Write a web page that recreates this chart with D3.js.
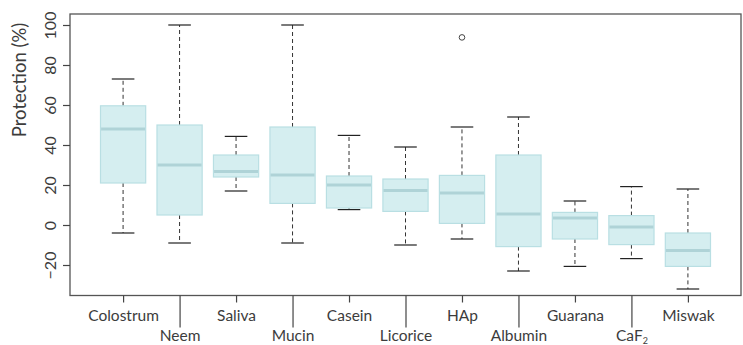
<!DOCTYPE html>
<html>
<head>
<meta charset="utf-8">
<script src="https://cdn.jsdelivr.net/npm/d3@7"></script>
<style>
  html, body { margin: 0; padding: 0; background: #fff; }
  svg text { font-family: Lato, "Open Sans", sans-serif; font-weight: 400; fill: #3c3c3c; }
</style>
</head>
<body>
<svg id="chart" width="743" height="345"></svg>
<script>
// Treatments, in plotting order
const categories = ["Colostrum", "Neem", "Saliva", "Mucin", "Casein", "Licorice",
                    "HAp", "Albumin", "Guarana", "CaF2", "Miswak"];
// Five-number summaries (% protection)
const whiskerLow = [-4, -9, 17, -9, 7.7, -10, -7, -23, -20.7, -16.8, -32];
const q1         = [21, 5, 24, 10.8, 8.5, 6.8, 0.8, -10.8, -7, -9.8, -20.7];
const medians    = [48, 30, 26.8, 25, 20, 17.3, 16, 5.5, 3.5, -1, -12.7];
const q3         = [59.6, 50, 35, 49, 24.5, 23, 24.8, 35, 6.3, 4.7, -4];
const whiskerHigh= [73, 100, 44.3, 100, 44.8, 39, 49, 54, 12, 19.2, 18];
// Points beyond the whiskers
const outliers = [{ group: "HAp", value: 93.8 }];
const yTicks = [-20, 0, 20, 40, 60, 80, 100];

const svg = d3.select("#chart");
const plotL = 70, plotR = 741, plotT = 14, plotB = 295.5;

const x = d3.scaleLinear().domain([0.06, categories.length + 0.94]).range([plotL, plotR]);
const y = d3.scaleLinear().domain([-35.25, 105.5]).range([plotB, plotT]);
const pos = name => x(categories.indexOf(name) + 1);
const boxW = x(0.8) - x(0);
const capW = x(0.4) - x(0);

const data = categories.map((c, i) => ({
  name: c, lo: whiskerLow[i], q1: q1[i], med: medians[i], q3: q3[i], hi: whiskerHigh[i]
}));

const g = svg.append("g");

// Dashed whiskers
g.selectAll(".wh-up").data(data).join("line")
  .attr("x1", d => pos(d.name)).attr("x2", d => pos(d.name))
  .attr("y1", d => y(d.q3)).attr("y2", d => y(d.hi))
  .attr("stroke", "#333").attr("stroke-width", 1).attr("stroke-dasharray", "4,3");
g.selectAll(".wh-dn").data(data).join("line")
  .attr("x1", d => pos(d.name)).attr("x2", d => pos(d.name))
  .attr("y1", d => y(d.q1)).attr("y2", d => y(d.lo))
  .attr("stroke", "#333").attr("stroke-width", 1).attr("stroke-dasharray", "4,3");

// Whisker caps
["lo", "hi"].forEach(k => {
  g.selectAll(".cap-" + k).data(data).join("line")
    .attr("x1", d => pos(d.name) - capW / 2).attr("x2", d => pos(d.name) + capW / 2)
    .attr("y1", d => y(d[k])).attr("y2", d => y(d[k]))
    .attr("stroke", "#222").attr("stroke-width", 1.2);
});

// Boxes
g.selectAll(".box").data(data).join("rect")
  .attr("x", d => pos(d.name) - boxW / 2).attr("width", boxW)
  .attr("y", d => y(d.q3)).attr("height", d => y(d.q1) - y(d.q3))
  .attr("fill", "#d5eef0").attr("stroke", "#b9dfe3").attr("stroke-width", 1.2);

// Medians
g.selectAll(".med").data(data).join("line")
  .attr("x1", d => pos(d.name) - boxW / 2 + 0.6).attr("x2", d => pos(d.name) + boxW / 2 - 0.6)
  .attr("y1", d => y(d.med)).attr("y2", d => y(d.med))
  .attr("stroke", "#afd3d7").attr("stroke-width", 3);

// Outliers
g.selectAll(".out").data(outliers).join("circle")
  .attr("cx", d => pos(d.group)).attr("cy", d => y(d.value)).attr("r", 2.8)
  .attr("fill", "none").attr("stroke", "#444").attr("stroke-width", 1);

// Frame
svg.append("rect").attr("x", plotL).attr("y", plotT)
  .attr("width", plotR - plotL).attr("height", plotB - plotT)
  .attr("fill", "none").attr("stroke", "#555").attr("stroke-width", 1.3);

// Y axis
const yAxis = svg.append("g").attr("transform", `translate(${plotL},0)`)
  .call(d3.axisLeft(y).tickValues(yTicks).tickSize(7).tickFormat(d3.format("d")));
yAxis.select(".domain").remove();
yAxis.selectAll(".tick line").attr("stroke", "#444").attr("stroke-width", 1.2);
yAxis.selectAll(".tick text")
  .attr("x", null).attr("dy", null)
  .attr("transform", "translate(-21,0) rotate(-90)")
  .attr("text-anchor", "middle").attr("dominant-baseline", "central")
  .style("font-size", "16px").style("fill", "#3c3c3c");

// X axis: labels alternate between two rows
const xAxis = svg.append("g").attr("transform", `translate(0,${plotB})`)
  .call(d3.axisBottom(x).tickValues(d3.range(1, categories.length + 1))
    .tickSize(0).tickFormat(() => ""));
xAxis.select(".domain").remove();
xAxis.selectAll(".tick line")
  .attr("y2", d => (d % 2 === 0 ? 32 : 7))
  .attr("stroke", "#444").attr("stroke-width", 1.2);
xAxis.selectAll(".tick text").remove();
xAxis.selectAll(".tick").each(function (d) {
  const name = categories[d - 1];
  const t = d3.select(this).append("text")
    .attr("y", d % 2 === 0 ? 45.5 : 25.8)
    .attr("text-anchor", "middle")
    .style("font-size", "15.5px").style("fill", "#3c3c3c");
  if (name === "CaF2") {
    t.append("tspan").text("CaF");
    t.append("tspan").text("2").attr("dy", 3).style("font-size", "9px");
  } else {
    t.text(name);
  }
});

// Y axis title
svg.append("text")
  .attr("transform", "translate(19,80) rotate(-90)")
  .attr("text-anchor", "middle").attr("dominant-baseline", "central")
  .style("font-size", "18.5px").style("fill", "#3c3c3c")
  .text("Protection (%)");
</script>
</body>
</html>
